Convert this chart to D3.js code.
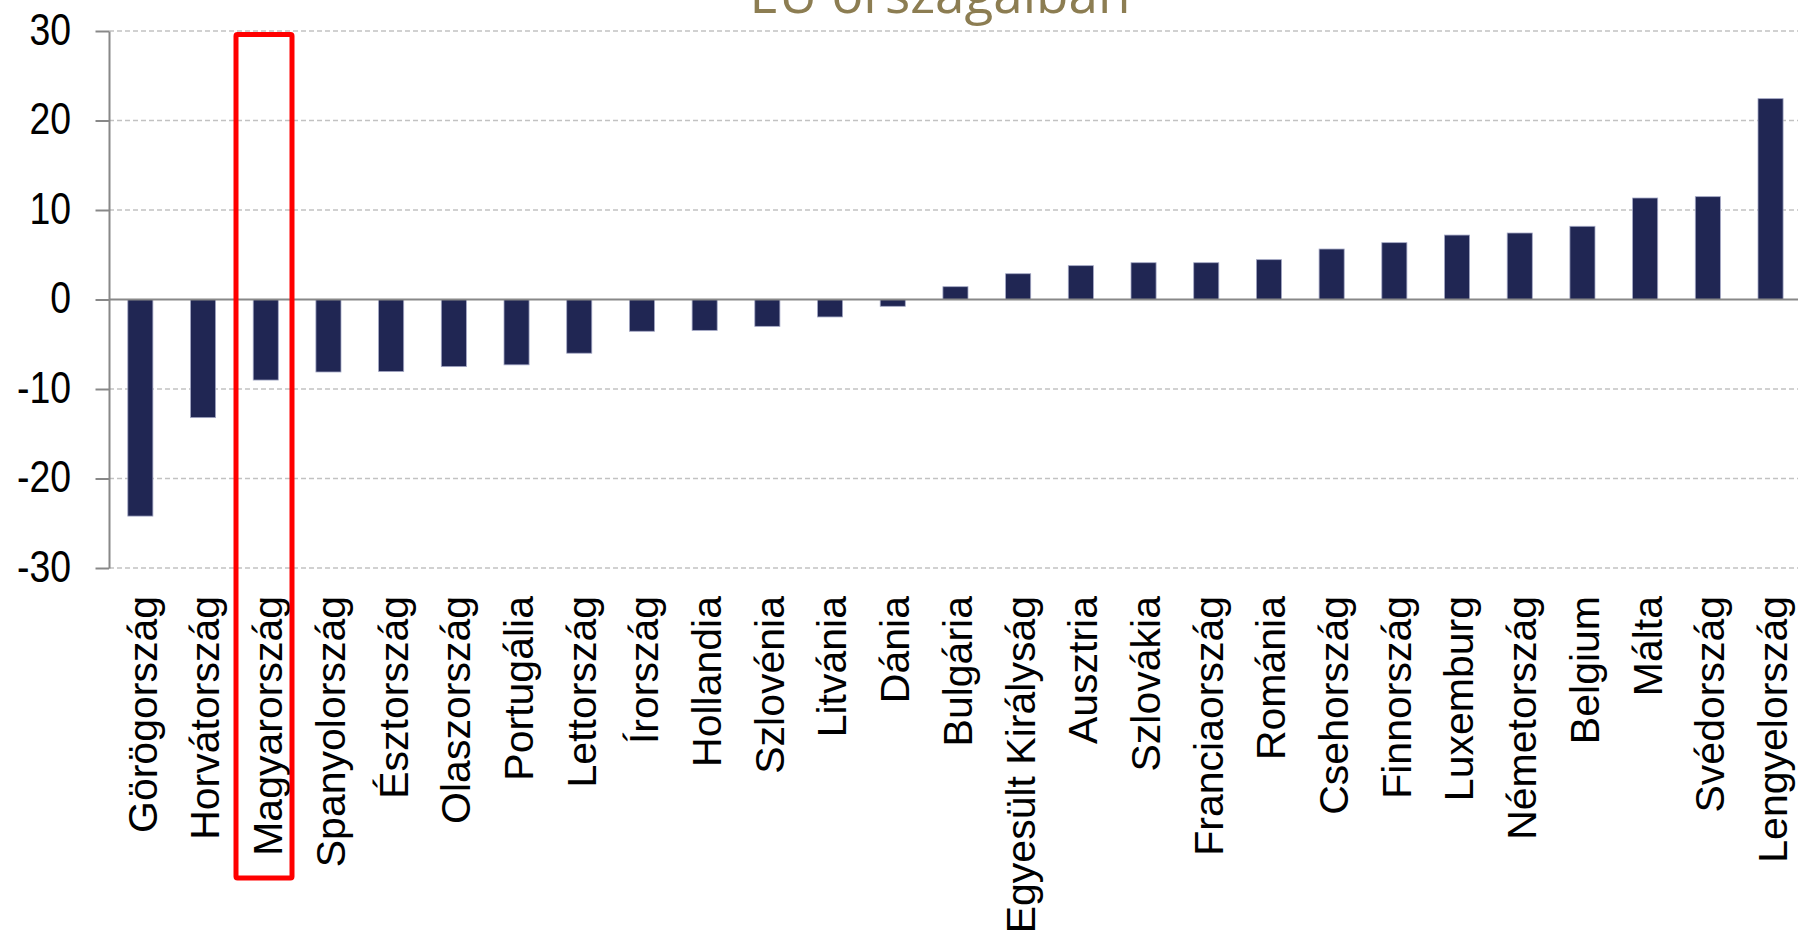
<!DOCTYPE html>
<html>
<head>
<meta charset="utf-8">
<script src="https://cdn.jsdelivr.net/npm/d3@7"></script>
<style>
  body { margin: 0; background: #fff; }
  svg { display: block; }
</style>
</head>
<body>
<div id="chart"></div>
<script>
// Data
const countries = ["Görögország", "Horvátország", "Magyarország", "Spanyolország", "Észtország",
  "Olaszország", "Portugália", "Lettország", "Írország", "Hollandia", "Szlovénia", "Litvánia",
  "Dánia", "Bulgária", "Egyesült Királyság", "Ausztria", "Szlovákia", "Franciaország", "Románia",
  "Csehország", "Finnország", "Luxemburg", "Németország", "Belgium", "Málta", "Svédország",
  "Lengyelország"];
const values = [-24.2, -13.2, -9.0, -8.1, -8.05, -7.5, -7.3, -6.0, -3.55, -3.45, -3.0, -1.95,
  -0.76, 1.43, 2.88, 3.78, 4.11, 4.11, 4.45, 5.64, 6.35, 7.2, 7.43, 8.18, 11.34, 11.49, 22.44];
const yTicks = [-30, -20, -10, 0, 10, 20, 30];
const title = "EU országaiban";
const highlight = "Magyarország";

const data = countries.map((c, i) => ({ country: c, value: values[i] }));

const width = 1798;
const height = 936;
const margin = { top: 31, left: 109, bottom: 368 };

const svg = d3.select("#chart")
  .append("svg")
  .attr("width", width)
  .attr("height", height);

// Scales
const x = d3.scaleBand()
  .domain(countries)
  .range([margin.left, margin.left + 27 * 62.7])
  .paddingInner(0.6)
  .paddingOuter(0.3);

const y = d3.scaleLinear()
  .domain([-30, 30])
  .range([height - margin.bottom, margin.top]);

// Title (cut off at the top, as in the source)
svg.append("text")
  .attr("x", 940)
  .attr("y", 12.5)
  .attr("text-anchor", "middle")
  .attr("font-family", "Open Sans, sans-serif")
  .attr("font-size", "53px")
  .attr("fill", "#8c7d52")
  .text(title);

// Dashed gridlines
svg.append("g")
  .selectAll("line")
  .data(yTicks.filter(t => t !== 0))
  .join("line")
  .attr("x1", margin.left)
  .attr("x2", width)
  .attr("y1", d => y(d))
  .attr("y2", d => y(d))
  .attr("stroke", "#c2c2c2")
  .attr("stroke-width", 1.4)
  .attr("stroke-dasharray", "5,3");

// Bars
svg.append("g")
  .selectAll("rect")
  .data(data)
  .join("rect")
  .attr("x", d => x(d.country))
  .attr("y", d => y(Math.max(0, d.value)))
  .attr("width", x.bandwidth())
  .attr("height", d => Math.abs(y(d.value) - y(0)))
  .attr("fill", "#202653")
  .attr("stroke", "#a3a7c4")
  .attr("stroke-width", 0.8);

// Zero line
svg.append("line")
  .attr("x1", margin.left)
  .attr("x2", width)
  .attr("y1", y(0))
  .attr("y2", y(0))
  .attr("stroke", "#888")
  .attr("stroke-width", 2);

// Y axis (hyphen minus, narrow digits like the source)
const squeeze = 0.85;
const yAxis = svg.append("g")
  .attr("transform", `translate(${margin.left},0)`)
  .call(d3.axisLeft(y)
    .tickValues(yTicks)
    .tickFormat(d => String(d))
    .tickSize(13.5)
    .tickPadding(24.5)
    .tickSizeOuter(0));
yAxis.select(".domain").attr("stroke", "#888").attr("stroke-width", 2);
yAxis.selectAll(".tick line").attr("stroke", "#888").attr("stroke-width", 2);
yAxis.selectAll(".tick text")
  .attr("font-family", "Liberation Sans, sans-serif")
  .attr("font-size", "44px")
  .attr("fill", "#000")
  .attr("x", -38 / squeeze)
  .attr("dy", "0.3em")
  .attr("transform", `scale(${squeeze},1)`);

// Category labels, rotated
svg.append("g")
  .selectAll("text")
  .data(countries)
  .join("text")
  .attr("transform", d => `translate(${x(d) + x.bandwidth() / 2},596) rotate(-90)`)
  .attr("text-anchor", "end")
  .attr("dy", "0.4em")
  .attr("font-family", "Liberation Sans, sans-serif")
  .attr("font-size", "41px")
  .attr("fill", "#000")
  .text(d => d);

// Red highlight box round Magyarország
const bandStart = x(highlight) - x.step() * x.paddingOuter();
svg.append("rect")
  .attr("x", bandStart + 1.6)
  .attr("y", y(30) + 3.5)
  .attr("width", 56)
  .attr("height", 878 - (y(30) + 3.5))
  .attr("rx", 1.5)
  .attr("fill", "none")
  .attr("stroke", "#ff0000")
  .attr("stroke-width", 5);
</script>
</body>
</html>
